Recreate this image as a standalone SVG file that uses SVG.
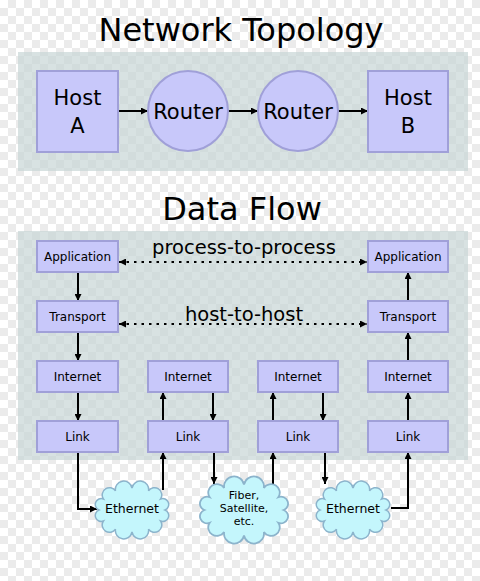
<svg xmlns="http://www.w3.org/2000/svg" width="480" height="581" viewBox="0 0 480 581">
<defs>
<pattern id="chk" width="16" height="16" patternUnits="userSpaceOnUse">
<rect width="16" height="16" fill="#ffffff"/>
<rect x="8" y="0" width="8" height="8" fill="#ebebeb"/>
<rect x="0" y="8" width="8" height="8" fill="#ebebeb"/>
</pattern>
<marker id="ah" viewBox="0 0 7 7" refX="7" refY="3.5" markerWidth="7" markerHeight="7" markerUnits="userSpaceOnUse" orient="auto-start-reverse">
<path d="M0,0 L7,3.5 L0,7 z" fill="#000"/>
</marker>
<path id="cloud" d="M33,0 A1,1 0 0 1 28.58,11 A1,1 0 0 1 16.5,19.05 A1,1 0 0 1 0,22 A1,1 0 0 1 -16.5,19.05 A1,1 0 0 1 -28.58,11 A1,1 0 0 1 -33,0 A1,1 0 0 1 -28.58,-11 A1,1 0 0 1 -16.5,-19.05 A1,1 0 0 1 0,-22 A1,1 0 0 1 16.5,-19.05 A1,1 0 0 1 28.58,-11 A1,1 0 0 1 33,0 Z"/>
</defs>
<style>
text { font-family: "DejaVu Sans", "Liberation Sans", sans-serif; fill: #000; text-anchor: middle; }
.title { font-size: 32px; }
.big { font-size: 21px; }
.lbl { font-size: 19.5px; }
.small { font-size: 12px; }
.cl { font-size: 12.5px; }
.cf { font-size: 11px; }
.panel { fill: #c8d6d6; fill-opacity: 0.7; }
.box { fill: #c8c8fa; stroke: #a0a0d8; stroke-width: 2; }
.cloud { fill: #c4f6fc; stroke: #8cb4cc; stroke-width: 1.5; }
.conn { stroke: #000; stroke-width: 2; fill: none; marker-end: url(#ah); }
.dot { stroke: #000; stroke-width: 1.8; fill: none; stroke-dasharray: 2.5,5; marker-start: url(#ah); marker-end: url(#ah); }
</style>
<rect width="480" height="581" fill="url(#chk)"/>
<rect class="panel" x="18" y="52" width="450" height="119"/>
<rect class="panel" x="18" y="231" width="450" height="229"/>
<text class="title" x="241" y="41">Network Topology</text>
<text class="title" x="242" y="220">Data Flow</text>

<g id="connectors">
<line class="conn" x1="118" y1="111" x2="148" y2="111"/>
<line class="conn" x1="228" y1="111" x2="258" y2="111"/>
<line class="conn" x1="338" y1="111" x2="368" y2="111"/>
<line class="dot" x1="119" y1="262" x2="367" y2="262"/>
<line class="dot" x1="119" y1="324" x2="367" y2="324"/>
<line class="conn" x1="78" y1="272" x2="78" y2="301"/>
<line class="conn" x1="78" y1="332" x2="78" y2="361"/>
<line class="conn" x1="78" y1="392" x2="78" y2="421"/>
<line class="conn" x1="408" y1="301" x2="408" y2="272"/>
<line class="conn" x1="408" y1="361" x2="408" y2="332"/>
<line class="conn" x1="408" y1="421" x2="408" y2="392"/>
<line class="conn" x1="163" y1="421" x2="163" y2="392"/>
<line class="conn" x1="213" y1="392" x2="213" y2="421"/>
<line class="conn" x1="273" y1="421" x2="273" y2="392"/>
<line class="conn" x1="323" y1="392" x2="323" y2="421"/>
<path class="conn" d="M78,452 V509 H97"/>
<line class="conn" x1="163" y1="490" x2="163" y2="452"/>
<line class="conn" x1="214" y1="452" x2="214" y2="484"/>
<line class="conn" x1="273" y1="490" x2="273" y2="452"/>
<line class="conn" x1="325" y1="452" x2="325" y2="484"/>
<path class="conn" d="M391,508 H408 V452"/>
</g>

<g id="hostA"><rect class="box" x="37" y="71" width="81" height="81"/><text class="big" x="77.5" y="105">Host</text><text class="big" x="77.5" y="133">A</text></g>
<g id="router1"><circle class="box" cx="188" cy="111" r="40"/><text class="big" x="188" y="119">Router</text></g>
<g id="router2"><circle class="box" cx="298" cy="111" r="40"/><text class="big" x="298" y="119">Router</text></g>
<g id="hostB"><rect class="box" x="368" y="71" width="80" height="81"/><text class="big" x="408" y="105">Host</text><text class="big" x="408" y="133">B</text></g>

<text class="lbl" x="244" y="254">process-to-process</text>
<text class="lbl" x="244" y="321">host-to-host</text>

<g id="appA"><rect class="box" x="37" y="241" width="81" height="31"/><text class="small" x="77.5" y="261">Application</text></g>
<g id="transA"><rect class="box" x="37" y="301" width="81" height="31"/><text class="small" x="77.5" y="321">Transport</text></g>
<g id="intA"><rect class="box" x="37" y="361" width="81" height="31"/><text class="small" x="77.5" y="381">Internet</text></g>
<g id="linkA"><rect class="box" x="37" y="421" width="81" height="31"/><text class="small" x="77.5" y="441">Link</text></g>

<g id="intR1"><rect class="box" x="148" y="361" width="80" height="31"/><text class="small" x="188" y="381">Internet</text></g>
<g id="linkR1"><rect class="box" x="148" y="421" width="80" height="31"/><text class="small" x="188" y="441">Link</text></g>
<g id="intR2"><rect class="box" x="258" y="361" width="80" height="31"/><text class="small" x="298" y="381">Internet</text></g>
<g id="linkR2"><rect class="box" x="258" y="421" width="80" height="31"/><text class="small" x="298" y="441">Link</text></g>

<g id="appB"><rect class="box" x="368" y="241" width="80" height="31"/><text class="small" x="408" y="261">Application</text></g>
<g id="transB"><rect class="box" x="368" y="301" width="80" height="31"/><text class="small" x="408" y="321">Transport</text></g>
<g id="intB"><rect class="box" x="368" y="361" width="80" height="31"/><text class="small" x="408" y="381">Internet</text></g>
<g id="linkB"><rect class="box" x="368" y="421" width="80" height="31"/><text class="small" x="408" y="441">Link</text></g>

<g id="eth1"><use href="#cloud" class="cloud" transform="translate(132,510)"/><text class="cl" x="132" y="513">Ethernet</text></g>
<g id="fiber"><use href="#cloud" class="cloud" transform="translate(244,510) scale(1.2,1.16)" vector-effect="non-scaling-stroke"/><text class="cf" x="244" y="499">Fiber,</text><text class="cf" x="244" y="512">Satellite,</text><text class="cf" x="244" y="525">etc.</text></g>
<g id="eth2"><use href="#cloud" class="cloud" transform="translate(353,510)"/><text class="cl" x="353" y="513">Ethernet</text></g>
</svg>
